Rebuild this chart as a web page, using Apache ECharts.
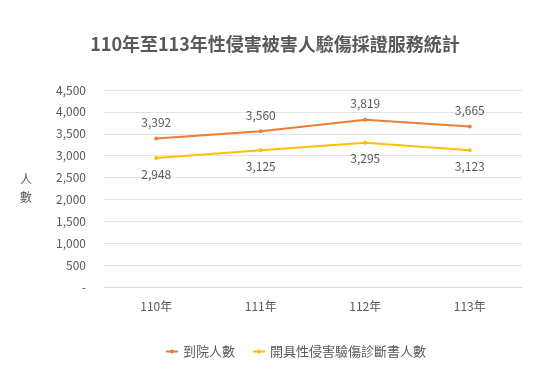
<!DOCTYPE html>
<html><head><meta charset="utf-8">
<script src="https://cdn.jsdelivr.net/npm/echarts@6/dist/echarts.min.js"></script>
<style>html,body{margin:0;padding:0;background:#fff}#c{width:550px;height:380px}</style>
</head><body><div id="c"></div>
<script>
const categories = ['110年','111年','112年','113年'];
const hospitalVisits = [3392, 3560, 3819, 3665];
const certificates = [2948, 3125, 3295, 3123];
const yTicks = [0, 500, 1000, 1500, 2000, 2500, 3000, 3500, 4000, 4500];
const seriesNames = ['到院人數', '開具性侵害驗傷診斷書人數'];

const fontFam = '"Noto Sans CJK TC","Noto Sans CJK SC",sans-serif';
const chart = echarts.init(document.getElementById('c'));
const fmt = v => v === 0 ? '-' : v.toLocaleString('en-US');
chart.setOption({
  animation: false,
  textStyle: {fontFamily: fontFam},
  title: {
    text: '110年至113年性侵害被害人驗傷採證服務統計',
    left: 'center', top: 30,
    textStyle: {fontSize: 18, fontWeight: 'bold', color: '#595959', fontFamily: fontFam}
  },
  legend: {
    bottom: 17, left: 160, itemWidth: 12, itemHeight: 5, itemGap: 17,
    textStyle: {fontSize: 13, color: '#595959'},
    data: seriesNames
  },
  grid: {left: 104, right: 28, top: 90, bottom: 93},
  xAxis: {
    type: 'category', data: categories, boundaryGap: true,
    axisLine: {show: true, lineStyle: {color: '#d9d9d9'}},
    axisTick: {show: false},
    axisLabel: {color: '#595959', fontSize: 12, margin: 13}
  },
  yAxis: {
    type: 'value', min: yTicks[0], max: yTicks[yTicks.length - 1], interval: 500,
    name: '人\n數', nameLocation: 'middle', nameRotate: 0, nameGap: 72,
    nameTextStyle: {color: '#595959', fontSize: 12, lineHeight: 18, padding: [0, 0, 14, 0]},
    axisLine: {show: false}, axisTick: {show: false},
    splitLine: {lineStyle: {color: '#e3e3e3'}},
    axisLabel: {color: '#595959', fontSize: 12, margin: 18, formatter: fmt}
  },
  series: [
    {
      name: seriesNames[0], type: 'line', data: hospitalVisits,
      symbol: 'circle', symbolSize: 4,
      lineStyle: {color: '#ED7D31', width: 2}, itemStyle: {color: '#ED7D31'},
      label: {show: true, position: 'top', distance: 8, color: '#595959', fontSize: 12, formatter: p => fmt(p.value)}
    },
    {
      name: seriesNames[1], type: 'line', data: certificates,
      symbol: 'circle', symbolSize: 4,
      lineStyle: {color: '#FFC000', width: 2}, itemStyle: {color: '#FFC000'},
      label: {show: true, position: 'bottom', distance: 8, color: '#595959', fontSize: 12, formatter: p => fmt(p.value)}
    }
  ]
});
</script></body></html>
